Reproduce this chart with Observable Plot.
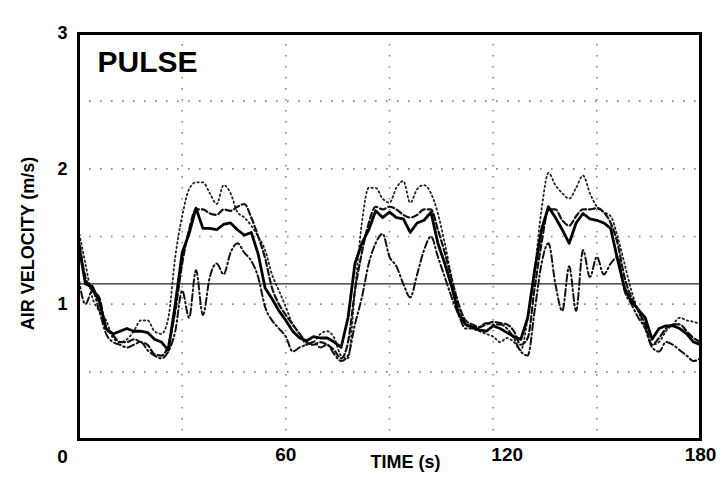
<!DOCTYPE html>
<html><head><meta charset="utf-8">
<script src="https://cdn.jsdelivr.net/npm/d3@7"></script>
<script src="https://cdn.jsdelivr.net/npm/@observablehq/plot@0.6"></script>
<style>html,body{margin:0;padding:0;background:#fff}svg{display:block}</style>
</head><body><div id="chart"></div>
<script>
const time = [0,2,4,6,8,10,12,14,16,18,20,22,24,26,28,30,32,34,36,38,40,42,44,46,48,50,52,54,56,58,60,62,64,66,68,70,72,74,76,78,80,82,84,86,88,90,92,94,96,98,100,102,104,106,108,110,112,114,116,118,120,122,124,126,128,130,132,134,136,138,140,142,144,146,148,150,152,154,156,158,160,162,164,166,168,170,172,174,176,178,180];
const solid = [1.45,1.15,1.13,1.02,0.82,0.78,0.8,0.82,0.8,0.8,0.79,0.74,0.72,0.66,1.0,1.38,1.52,1.71,1.56,1.56,1.55,1.59,1.6,1.55,1.51,1.53,1.37,1.12,1.04,0.95,0.88,0.8,0.75,0.73,0.76,0.75,0.75,0.72,0.68,0.9,1.3,1.45,1.55,1.69,1.64,1.68,1.64,1.63,1.53,1.6,1.62,1.68,1.45,1.3,1.13,0.93,0.85,0.83,0.81,0.8,0.84,0.82,0.79,0.76,0.74,0.9,1.25,1.55,1.72,1.64,1.55,1.45,1.6,1.67,1.63,1.62,1.6,1.56,1.33,1.12,1.02,0.96,0.9,0.74,0.82,0.84,0.84,0.82,0.78,0.72,0.7];
const dashed = [1.5,1.2,1.1,1.05,0.82,0.77,0.72,0.72,0.74,0.72,0.7,0.63,0.62,0.7,0.95,1.3,1.55,1.7,1.7,1.67,1.66,1.7,1.69,1.72,1.74,1.64,1.5,1.34,1.12,1.0,0.92,0.85,0.78,0.72,0.7,0.72,0.7,0.66,0.6,0.72,1.1,1.38,1.6,1.72,1.7,1.72,1.7,1.66,1.64,1.66,1.7,1.7,1.55,1.38,1.18,1.0,0.88,0.85,0.83,0.85,0.87,0.86,0.85,0.8,0.7,0.75,1.12,1.45,1.7,1.7,1.62,1.58,1.65,1.7,1.7,1.71,1.68,1.6,1.45,1.2,1.05,0.95,0.85,0.7,0.75,0.82,0.85,0.85,0.8,0.75,0.72];
const dotted = [1.55,1.3,1.05,0.95,0.88,0.75,0.72,0.74,0.8,0.88,0.88,0.8,0.78,0.9,1.35,1.65,1.85,1.9,1.9,1.82,1.74,1.88,1.82,1.68,1.64,1.58,1.5,1.4,1.22,1.1,0.98,0.85,0.78,0.7,0.72,0.78,0.8,0.75,0.62,0.6,1.1,1.6,1.86,1.86,1.78,1.75,1.86,1.91,1.75,1.85,1.88,1.82,1.67,1.45,1.2,1.0,0.85,0.82,0.8,0.78,0.76,0.72,0.75,0.72,0.66,0.9,1.25,1.7,1.97,1.88,1.82,1.78,1.86,1.95,1.82,1.72,1.68,1.65,1.5,1.3,1.1,0.95,0.82,0.7,0.72,0.8,0.85,0.9,0.88,0.87,0.85];
const dashdot = [1.2,1.0,1.1,0.95,0.78,0.72,0.7,0.68,0.7,0.72,0.66,0.62,0.6,0.65,0.8,1.1,0.9,1.25,0.92,1.2,1.3,1.22,1.38,1.45,1.38,1.32,1.2,0.98,0.88,0.82,0.76,0.65,0.68,0.7,0.72,0.68,0.7,0.63,0.58,0.62,0.85,1.05,1.3,1.45,1.52,1.35,1.28,1.15,1.05,1.22,1.4,1.5,1.35,1.2,1.05,0.92,0.82,0.82,0.83,0.86,0.85,0.85,0.82,0.75,0.65,0.62,0.95,1.3,1.45,1.15,0.95,1.28,0.95,1.4,1.2,1.35,1.22,1.3,1.35,1.1,1.0,0.9,0.82,0.68,0.65,0.72,0.7,0.66,0.62,0.58,0.6];
const refLevel = [1.15];
const xGrid = [30,60,90,120,150];
const yGrid = [0.5,1,1.5,2,2.5];
const yTicks = [1,2,3];
const xTicksA = [60,180];
const xTicksB = [120];
const xTickZero = [0];
const panelTitle = "PULSE";
const xTitle = "TIME (s)";
const yTitle = "AIR VELOCITY (m/s)";

const rows = (vals) => time.map((t,i) => ({t, v: vals[i]}));
const font = "'Liberation Sans', Arial, Helvetica, sans-serif";

const chart = Plot.plot({
  width: 728, height: 482,
  marginLeft: 78, marginRight: 28, marginTop: 33, marginBottom: 43,
  x: {domain: [0,180]},
  y: {domain: [0,3]},
  style: {fontFamily: font, fontWeight: "bold", background: "#fff", color: "#000"},
  marks: [
    Plot.gridX(xGrid, {stroke: "#888", strokeOpacity: 1, strokeWidth: 1.6, strokeDasharray: "1.6,9.4"}),
    Plot.gridY(yGrid, {stroke: "#888", strokeOpacity: 1, strokeWidth: 1.6, strokeDasharray: "1.6,9.4"}),
    Plot.ruleY(refLevel, {x1: 0, x2: 180, stroke: "#222", strokeWidth: 1.3}),
    Plot.line(rows(dotted), {x: "t", y: "v", stroke: "#222", strokeWidth: 1.8, strokeDasharray: "1.5,3", strokeLinecap: "round", curve: "monotone-x"}),
    Plot.line(rows(dashdot), {x: "t", y: "v", stroke: "#111", strokeWidth: 2, strokeDasharray: "7,3,1.5,3", curve: "monotone-x"}),
    Plot.line(rows(dashed), {x: "t", y: "v", stroke: "#111", strokeWidth: 2.2, strokeDasharray: "6,3", curve: "monotone-x"}),
    Plot.line(rows(solid), {x: "t", y: "v", stroke: "#000", strokeWidth: 2.8, curve: "linear"}),
    Plot.frame({stroke: "#000", strokeWidth: 3}),
    Plot.axisY(yTicks, {tickSize: 0, tickPadding: 11, tickFormat: d => String(d), fontSize: 18, fontWeight: "bold", label: null}),
    Plot.axisX(xTicksA, {tickSize: 0, tickPadding: 8, tickFormat: d => String(d), fontSize: 19, fontWeight: "bold", label: null}),
    Plot.axisX(xTicksB, {tickSize: 0, tickPadding: 8, tickFormat: d => String(d), dx: 14, fontSize: 19, fontWeight: "bold", label: null}),
    Plot.text(xTickZero, {x: d => d, y: 0, dx: -16, dy: 17, text: d => String(d), fontSize: 19, fontWeight: "bold"}),
    Plot.text([xTitle], {frameAnchor: "bottom", dx: 16, dy: 28, textAnchor: "middle", text: d => d, fontSize: 18, fontWeight: "bold"}),
    Plot.text([yTitle], {frameAnchor: "left", dx: -50, dy: 7, rotate: -90, textAnchor: "middle", text: d => d, fontSize: 18, fontWeight: "bold"}),
    Plot.text([panelTitle], {frameAnchor: "top-left", dx: 19, dy: 17, textAnchor: "start", lineAnchor: "top", text: d => d, fontSize: 30, fontWeight: "bold"})
  ]
});
document.getElementById("chart").appendChild(chart);
</script>
</body></html>
